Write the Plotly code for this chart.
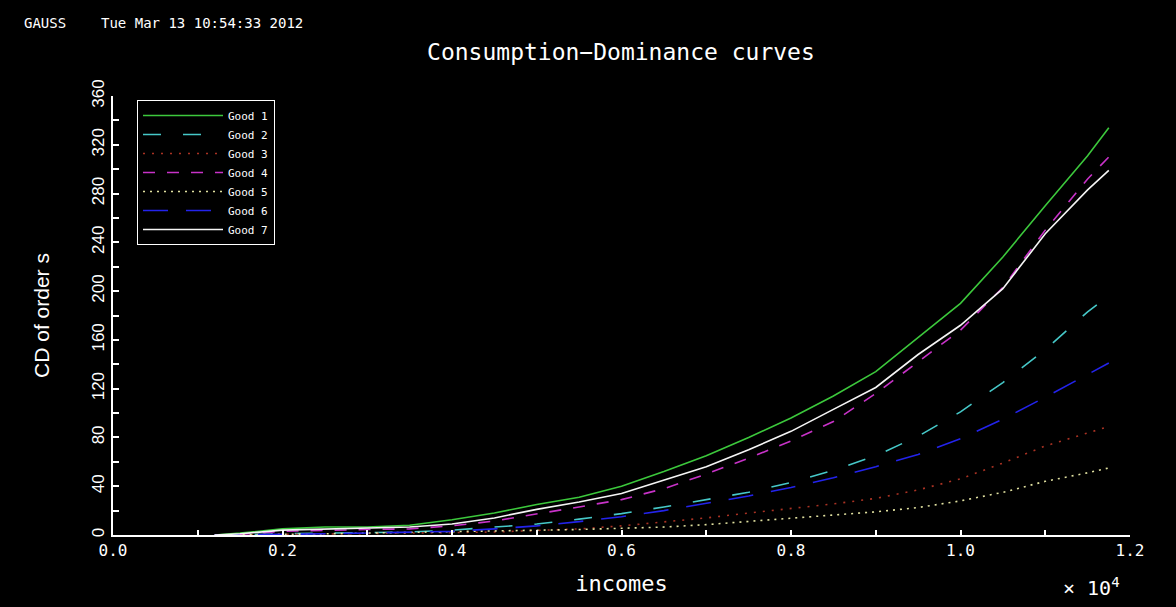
import plotly.graph_objects as go

# incomes, in units of 10^4
incomes = [0.12, 0.15, 0.20, 0.25, 0.30, 0.35, 0.40, 0.45, 0.50, 0.55, 0.60, 0.65,
           0.70, 0.75, 0.80, 0.85, 0.90, 0.95, 1.00, 1.05, 1.10, 1.15, 1.175]

good_1 = [0, 1.5, 5, 6.5, 6.5, 8, 12.5, 18, 25, 31, 40, 52, 65, 80, 96, 114, 134, 162, 190, 228, 270, 311, 334]
good_2 = [0, 0, 1, 1.5, 2, 2.5, 4, 6.5, 9, 13, 17.5, 23, 29, 35, 43, 53, 65, 81, 101, 125, 152, 183, 196]
good_3 = [0, 0, 0.5, 0.8, 1, 1.5, 2, 2.5, 3.5, 5, 7.5, 10.5, 14, 18, 21.5, 25.5, 30, 37, 46, 59, 73, 84, 89]
good_4 = [0, 0.5, 3, 4, 4.5, 5, 7.5, 11.5, 17, 23, 29, 38, 50, 63, 77, 93, 116, 142, 168, 203, 250, 292, 310]
good_5 = [0, 0, 0.5, 1, 1.5, 2, 2.5, 3, 3.5, 4.5, 5.5, 6.5, 8.5, 11, 13.5, 16.5, 19, 22.5, 28, 35, 44, 51, 55]
good_6 = [0, 0, 0.5, 1, 1.5, 2, 3, 5, 7.5, 11, 15, 20, 26, 32, 39, 47, 56, 66, 79, 95, 113, 132, 141]
good_7 = [0, 1, 4, 5, 5.5, 6.5, 9, 14, 21, 27, 34, 45, 56, 70, 85, 103, 121, 148, 172, 202, 247, 283, 299]

x_ticks = [0, 0.2, 0.4, 0.6, 0.8, 1.0, 1.2]
x_tick_labels = ["0.0", "0.2", "0.4", "0.6", "0.8", "1.0", "1.2"]

series = [
    ("Good 1", good_1, "rgb(60,200,60)", "solid"),
    ("Good 2", good_2, "rgb(70,200,200)", "18px,22px"),
    ("Good 3", good_3, "rgb(170,50,35)", "2px,7px"),
    ("Good 4", good_4, "rgb(200,50,200)", "12px,12px"),
    ("Good 5", good_5, "rgb(225,225,160)", "2px,5px"),
    ("Good 6", good_6, "rgb(35,35,235)", "25px,18px"),
    ("Good 7", good_7, "rgb(245,245,245)", "solid"),
]

fig = go.Figure()
for name, vals, color, dash in series:
    fig.add_trace(go.Scatter(
        x=incomes, y=vals, name=name, mode="lines",
        line=dict(color=color, width=1.6, dash=dash),
    ))

MONO = "DejaVu Sans Mono"
NARROW = "Liberation Sans Narrow, Liberation Sans, sans-serif"

fig.update_layout(
    width=1176, height=607, autosize=False,
    margin=dict(l=113, r=46, t=96, b=72),
    paper_bgcolor="black", plot_bgcolor="black",
    showlegend=True,
    legend=dict(
        x=0.0236, y=0.991, xanchor="left", yanchor="top",
        bgcolor="black", bordercolor="white", borderwidth=1,
        font=dict(family=MONO, size=11, color="white"),
        tracegroupgap=0, itemwidth=80,
    ),
    xaxis=dict(
        range=[0, 1.2], tickvals=x_ticks, ticktext=x_tick_labels,
        ticks="inside", ticklen=5, tickwidth=1.5, tickcolor="white",
        minor=dict(dtick=0.1, tick0=0, ticks="inside", ticklen=5, tickwidth=1.5, tickcolor="white"),
        showline=True, linecolor="white", linewidth=2,
        showgrid=False, zeroline=False,
        tickfont=dict(family=MONO, size=16, color="white"),
        title=dict(text="incomes", font=dict(family=MONO, size=22, color="white"), standoff=16),
        automargin=False,
    ),
    yaxis=dict(
        range=[0, 360], dtick=40, tick0=0,
        ticks="inside", ticklen=6, tickwidth=1.5, tickcolor="white",
        minor=dict(dtick=20, tick0=0, ticks="inside", ticklen=6, tickwidth=1.5, tickcolor="white"),
        showline=True, linecolor="white", linewidth=2,
        showgrid=False, zeroline=False,
        tickangle=-90,
        tickfont=dict(family=NARROW, size=17, color="white"),
        title=dict(text="CD of order s", font=dict(family=NARROW, size=21, color="white"), standoff=34),
        automargin=False,
    ),
    title=dict(
        text="Consumption\u2212Dominance curves",
        font=dict(family=MONO, size=23, color="white"),
        x=0.528, xanchor="center", y=0.915, yanchor="middle",
    ),
    annotations=[
        dict(text="GAUSS", xref="paper", yref="paper", x=-0.0895, y=1.166,
             xanchor="left", yanchor="middle", showarrow=False,
             font=dict(family=MONO, size=14, color="white")),
        dict(text="Tue Mar 13 10:54:33 2012", xref="paper", yref="paper", x=-0.0138, y=1.166,
             xanchor="left", yanchor="middle", showarrow=False,
             font=dict(family=MONO, size=14, color="white")),
        dict(text="\u00d7 10<sup>4</sup>", xref="paper", yref="paper", x=0.9625, y=-0.118,
             xanchor="center", yanchor="middle", showarrow=False,
             font=dict(family=MONO, size=20, color="white")),
    ],
)

fig.write_html("out.html")
